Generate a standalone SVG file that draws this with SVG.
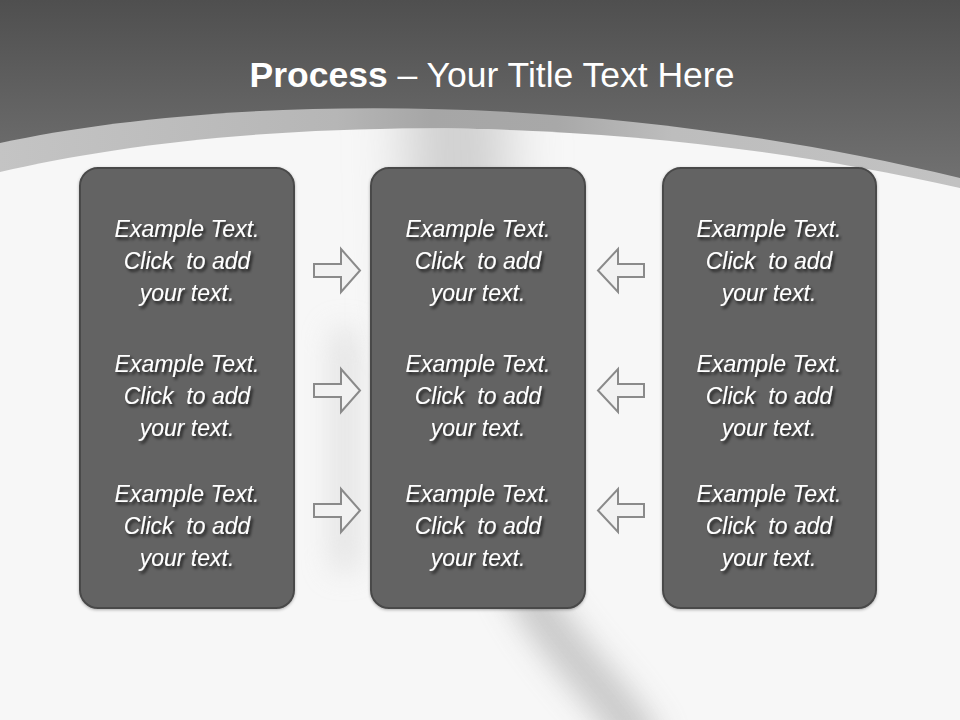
<svg xmlns="http://www.w3.org/2000/svg" width="960" height="720" viewBox="0 0 960 720">
<defs>
<linearGradient id="topbg" gradientUnits="userSpaceOnUse" x1="0" y1="0" x2="0" y2="180">
<stop offset="0" stop-color="#4f4f4f"/>
<stop offset="1" stop-color="#717171"/>
</linearGradient>
<linearGradient id="band" x1="0" y1="0" x2="1" y2="0">
<stop offset="0" stop-color="#c4c4c4"/>
<stop offset="0.35" stop-color="#b6b6b6"/>
<stop offset="0.45" stop-color="#a6a6a6"/>
<stop offset="0.58" stop-color="#a8a8a8"/>
<stop offset="0.7" stop-color="#bdbdbd"/>
<stop offset="1" stop-color="#c2c2c2"/>
</linearGradient>
<filter id="blur" filterUnits="userSpaceOnUse" x="0" y="0" width="960" height="720">
<feGaussianBlur stdDeviation="15"/>
</filter>
<filter id="blur2" filterUnits="userSpaceOnUse" x="0" y="0" width="960" height="720">
<feGaussianBlur stdDeviation="28"/>
</filter>
<filter id="tshadow" x="-20%" y="-20%" width="140%" height="160%">
<feDropShadow dx="2" dy="2.5" stdDeviation="1.5" flood-color="#000" flood-opacity="0.75"/>
</filter>
<filter id="bshadow" x="-10%" y="-10%" width="120%" height="120%">
<feDropShadow dx="0" dy="1" stdDeviation="1.5" flood-color="#000" flood-opacity="0.3"/>
</filter>
<clipPath id="white">
<path d="M0,172 C200,125 560,98 960,188 L960,720 L0,720 Z"/>
</clipPath>
</defs>
<style>
.box{fill:#646464;stroke:#4a4a4a;stroke-width:2;}
.t{font-family:"Liberation Sans",Arial,sans-serif;font-style:italic;font-size:23px;fill:#ffffff;text-anchor:middle;white-space:pre;}
.arr{fill:#f2f2f2;stroke:#8a8a8a;stroke-width:2;stroke-linejoin:miter;}
.title{font-family:"Liberation Sans",Arial,sans-serif;font-size:35.5px;fill:#ffffff;}
</style>

<!-- background -->
<rect x="0" y="0" width="960" height="720" fill="url(#topbg)"/>
<path d="M0,143 C200,100 560,82 960,178 L960,720 L0,720 Z" fill="url(#band)"/>
<g clip-path="url(#white)">
<rect x="0" y="0" width="960" height="720" fill="#f7f7f7"/>
<path d="M455,60 L462,330" fill="none" stroke="#d0d0d0" stroke-width="100" filter="url(#blur2)"/>
<path d="M468,300 C472,500 520,590 560,640 C590,680 615,700 645,750" fill="none" stroke="#c4c4c4" stroke-width="42" filter="url(#blur)" opacity="0.9"/>
<path d="M345,330 L345,570" fill="none" stroke="#d8d8d8" stroke-width="26" filter="url(#blur)" opacity="0.7"/>
</g>

<text class="title" x="492" y="87" text-anchor="middle"><tspan font-weight="bold">Process</tspan> – Your Title Text Here</text>

<g id="node-left" filter="url(#bshadow)">
<rect class="box" x="80" y="168" width="214" height="440" rx="18" ry="18"/>
</g>
<g id="node-left-text" filter="url(#tshadow)">
<text class="t" x="187" y="237">Example Text.</text>
<text class="t" x="187" y="269">Click  to add</text>
<text class="t" x="187" y="301">your text.</text>
<text class="t" x="187" y="372">Example Text.</text>
<text class="t" x="187" y="404">Click  to add</text>
<text class="t" x="187" y="436">your text.</text>
<text class="t" x="187" y="502">Example Text.</text>
<text class="t" x="187" y="534">Click  to add</text>
<text class="t" x="187" y="566">your text.</text>
</g>

<g id="node-middle" filter="url(#bshadow)">
<rect class="box" x="371" y="168" width="214" height="440" rx="18" ry="18"/>
</g>
<g id="node-middle-text" filter="url(#tshadow)">
<text class="t" x="478" y="237">Example Text.</text>
<text class="t" x="478" y="269">Click  to add</text>
<text class="t" x="478" y="301">your text.</text>
<text class="t" x="478" y="372">Example Text.</text>
<text class="t" x="478" y="404">Click  to add</text>
<text class="t" x="478" y="436">your text.</text>
<text class="t" x="478" y="502">Example Text.</text>
<text class="t" x="478" y="534">Click  to add</text>
<text class="t" x="478" y="566">your text.</text>
</g>

<g id="node-right" filter="url(#bshadow)">
<rect class="box" x="663" y="168" width="213" height="440" rx="18" ry="18"/>
</g>
<g id="node-right-text" filter="url(#tshadow)">
<text class="t" x="769" y="237">Example Text.</text>
<text class="t" x="769" y="269">Click  to add</text>
<text class="t" x="769" y="301">your text.</text>
<text class="t" x="769" y="372">Example Text.</text>
<text class="t" x="769" y="404">Click  to add</text>
<text class="t" x="769" y="436">your text.</text>
<text class="t" x="769" y="502">Example Text.</text>
<text class="t" x="769" y="534">Click  to add</text>
<text class="t" x="769" y="566">your text.</text>
</g>

<g id="connectors">
<polygon class="arr" points="314,264 341,264 341,249 360,270.5 341,292 341,277 314,277"/>
<polygon class="arr" points="314,384 341,384 341,369 360,390.5 341,412 341,397 314,397"/>
<polygon class="arr" points="314,504 341,504 341,489 360,510.5 341,532 341,517 314,517"/>
<polygon class="arr" points="644,264 618,264 618,249 598,270.5 618,292 618,277 644,277"/>
<polygon class="arr" points="644,384 618,384 618,369 598,390.5 618,412 618,397 644,397"/>
<polygon class="arr" points="644,504 618,504 618,489 598,510.5 618,532 618,517 644,517"/>
</g>
</svg>
